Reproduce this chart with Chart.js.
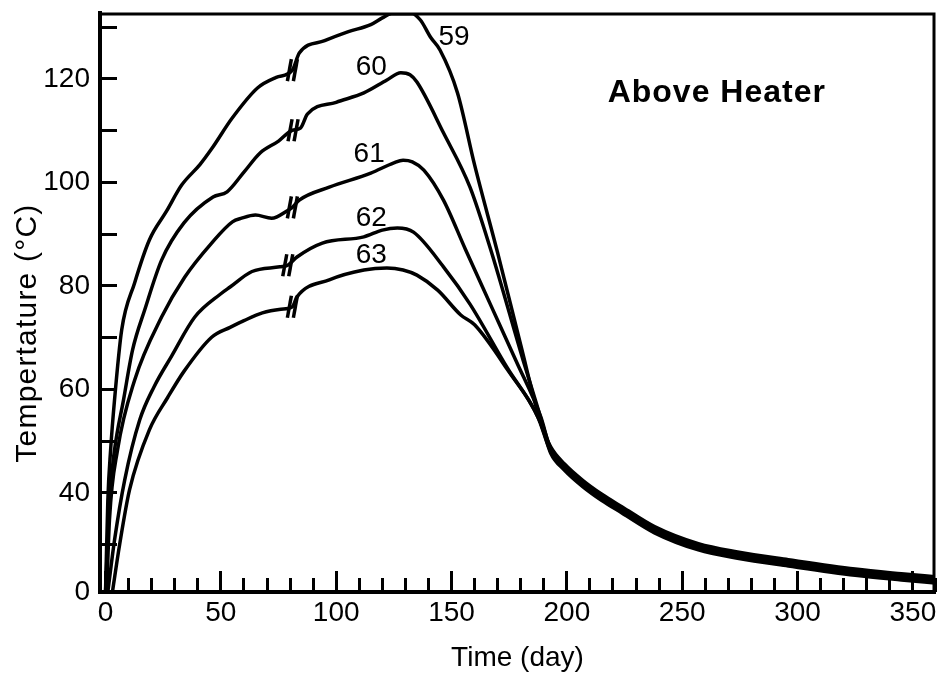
<!DOCTYPE html>
<html>
<head>
<meta charset="utf-8">
<script src="https://cdn.jsdelivr.net/npm/chart.js@4.4.1/dist/chart.umd.min.js"></script>
<style>
html,body{margin:0;padding:0;background:#fff;}
#wrap{width:940px;height:677px;}
</style>
</head>
<body>
<div id="wrap"><canvas id="grafica" width="940" height="677"></canvas></div>
<script>
// curvas 59..63, dia vs temperatura
var dias59 = [0, 1, 2.2, 3.9, 7, 12.6, 19, 26.5, 33, 41, 46, 55, 66, 74, 81, 84, 95, 105, 115, 120, 124, 133, 136.5, 141, 145, 152.6, 160, 170, 180, 188.7, 193, 199, 207, 215, 224, 238, 257, 274, 296, 325, 345, 360];
var temp59 = [20.9, 38.6, 48.3, 58, 71.5, 80.6, 88.9, 94.5, 99.5, 103.5, 106.5, 112.5, 118.3, 120.3, 121.7, 125, 127.4, 129.1, 130.5, 131.8, 132.6, 132.6, 131.4, 128, 125.6, 117.3, 103.4, 86.4, 68.6, 53.5, 48.9, 45.6, 42.4, 39.8, 37.3, 33.5, 30.2, 28.6, 27.1, 25.3, 24.4, 23.8];

var dias60 = [0, 1.7, 3.9, 7.8, 11.7, 17, 24.3, 34, 46.6, 52.7, 60, 67, 75, 81, 84.5, 87.5, 100, 112, 122, 128, 132, 135, 146.5, 158, 167, 181, 187, 190, 193, 199, 207, 215, 224, 238, 257, 274, 296, 325, 345, 360];
var temp60 = [20.9, 38.6, 48.3, 58, 67.6, 75.4, 85, 92.2, 97.2, 98.2, 102, 105.7, 108, 110.1, 110.5, 113.2, 115.5, 117.3, 119.8, 121.2, 120.8, 119.4, 109.6, 99.1, 87, 65.7, 57, 52.5, 48.6, 45.3, 42.1, 39.5, 37.0, 33.2, 29.9, 28.3, 26.8, 25.0, 24.1, 23.5];

var dias61 = [0.5, 1.7, 5.2, 12.6, 24.3, 34.3, 46, 55, 59, 65, 72, 79, 81, 84, 97, 115, 125, 129, 133, 138, 146.5, 156, 167, 178, 188.7, 193, 199, 207, 215, 224, 238, 257, 274, 296, 325, 345, 360];
var temp61 = [20.9, 34.8, 48.3, 61.8, 74, 81.7, 88.3, 92.4, 93.1, 93.7, 93.1, 94.6, 95.2, 96.6, 99.1, 101.8, 103.8, 104.3, 104.0, 102.4, 96.6, 87.1, 76.3, 65.5, 54.7, 48.3, 45.0, 41.8, 39.2, 36.7, 32.9, 29.6, 28.0, 26.5, 24.7, 23.8, 23.2];

var dias62 = [1, 3.9, 8.3, 14.8, 21, 28.7, 38.7, 50, 54, 63.5, 75.6, 79, 83, 94, 112, 120, 126.5, 133.5, 146.5, 158, 174, 187.4, 193, 199, 207, 215, 224, 238, 257, 274, 296, 325, 345, 360];
var temp62 = [20.9, 30.9, 42.5, 54.1, 60.5, 66.5, 74, 78.5, 79.8, 82.8, 83.7, 84, 85.6, 88.3, 89.5, 90.8, 91.2, 90.4, 83.7, 76.5, 64.3, 54.7, 48.0, 44.7, 41.5, 38.9, 36.4, 32.6, 29.3, 27.7, 26.2, 24.4, 23.5, 22.9];

var dias63 = [3, 6.1, 10.4, 19, 27, 34, 46, 54, 60, 68, 76, 81, 83, 97, 112, 122, 129, 135, 144, 154, 160, 174.3, 188.7, 193, 199, 207, 215, 224, 238, 257, 274, 296, 325, 345, 360];
var temp63 = [20.9, 30, 40.6, 52.2, 58.5, 63.5, 70.1, 72, 73.3, 74.8, 75.5, 76, 77.9, 81.2, 83.1, 83.5, 83.1, 82.1, 79.2, 74.4, 72.5, 63.8, 53.5, 47.7, 44.4, 41.2, 38.6, 36.1, 32.3, 29.0, 27.4, 25.9, 24.1, 23.2, 22.6];

// marcas "//" de cada curva
var diaCorte = [81, 81.3, 81, 79, 81];
var tempCorte = [121.7, 110.1, 95.2, 84, 76];

// etiquetas de curva
var nombres = ['59', '60', '61', '62', '63'];
var diaNombre = [151.1, 115.2, 114.3, 115.2, 115.2];
var tempNombre = [128.1, 122.3, 105.5, 93.1, 86];

// ejes
var xMin = -2.4, xMax = 359.6;
var yMin = 20.87, yMax = 132.75;
var xTicks = [0, 50, 100, 150, 200, 250, 300, 350];
var xTicksMenores = [10, 20, 30, 40, 60, 70, 80, 90, 110, 120, 130, 140, 160, 170, 180, 190, 210, 220, 230, 240, 260, 270, 280, 290, 310, 320, 330, 340, 360];
var yTicks = [20.87, 30, 40, 50, 60, 70, 80, 90, 100, 110, 120, 130];
var yTicksTexto = ['0', '', '40', '', '60', '', '80', '', '100', '', '120', ''];

var fuente = '"Liberation Sans", Arial, sans-serif';

function puntos(d, t) {
  var p = [];
  for (var i = 0; i < d.length; i++) p.push({x: d[i], y: t[i]});
  return p;
}

function serie(d, t) {
  return {
    data: puntos(d, t),
    borderColor: '#000',
    borderWidth: 3.5,
    pointRadius: 0,
    fill: false,
    cubicInterpolationMode: 'monotone'
  };
}

var extras = {
  id: 'extras',
  afterDraw: function(chart) {
    var ctx = chart.ctx;
    var xs = chart.scales.x, ys = chart.scales.y;
    var area = chart.chartArea;
    ctx.save();

    // marco superior y derecho
    ctx.strokeStyle = '#000';
    ctx.lineWidth = 3;
    ctx.beginPath();
    ctx.moveTo(area.left, area.top + 1);
    ctx.lineTo(area.right - 1, area.top + 1);
    ctx.lineTo(area.right - 1, area.bottom);
    ctx.stroke();

    // cortes
    ctx.lineWidth = 3.5;
    for (var i = 0; i < diaCorte.length; i++) {
      var px = xs.getPixelForValue(diaCorte[i]);
      var py = ys.getPixelForValue(tempCorte[i]);
      [-3, 3].forEach(function(dx) {
        ctx.beginPath();
        ctx.moveTo(px + dx - 2, py + 11);
        ctx.lineTo(px + dx + 2, py - 11);
        ctx.stroke();
      });
    }

    // nombres de curvas
    ctx.fillStyle = '#000';
    ctx.textAlign = 'center';
    ctx.textBaseline = 'middle';
    ctx.font = '28px ' + fuente;
    for (var j = 0; j < nombres.length; j++) {
      ctx.fillText(nombres[j], xs.getPixelForValue(diaNombre[j]), ys.getPixelForValue(tempNombre[j]));
    }

    ctx.font = 'bold 32px ' + fuente;
    ctx.letterSpacing = '1px';
    ctx.fillText('Above Heater', xs.getPixelForValue(265), ys.getPixelForValue(117.3));

    // titulo eje y
    ctx.font = '30px ' + fuente;
    ctx.letterSpacing = '1.2px';
    ctx.translate(ys.left + 28, ys.getPixelForValue(70.9));
    ctx.rotate(-Math.PI / 2);
    ctx.fillText('Tempertature (°C)', 0, 0);
    ctx.restore();
  }
};

var ctx = document.getElementById('grafica').getContext('2d');
var myChart = new Chart(ctx, {
  type: 'line',
  data: {
    datasets: [
      serie(dias59, temp59),
      serie(dias60, temp60),
      serie(dias61, temp61),
      serie(dias62, temp62),
      serie(dias63, temp63)
    ]
  },
  options: {
    responsive: false,
    animation: false,
    layout: {padding: {top: 13, right: 5, left: 0, bottom: 0}},
    plugins: {legend: {display: false}, tooltip: {enabled: false}},
    scales: {
      x: {
        type: 'linear',
        position: 'bottom',
        weight: 1,
        min: xMin,
        max: xMax,
        afterBuildTicks: function(s) { s.ticks = xTicks.map(function(v) { return {value: v}; }); },
        afterFit: function(s) { s.height = 85; s.paddingLeft = 0; s.paddingRight = 0; },
        border: {display: true, color: '#000', width: 4},
        grid: {drawOnChartArea: false, drawTicks: true, tickLength: -21, tickWidth: 3, color: '#000', tickColor: '#000'},
        ticks: {color: '#000', padding: 25, maxRotation: 0, autoSkip: false, font: {family: fuente, size: 28}},
        title: {display: true, text: 'Time (day)', color: '#000', padding: {top: 0, bottom: 2}, font: {family: fuente, size: 28}}
      },
      xMenor: {
        type: 'linear',
        position: 'bottom',
        weight: 0,
        min: xMin,
        max: xMax,
        afterBuildTicks: function(s) { s.ticks = xTicksMenores.map(function(v) { return {value: v}; }); },
        afterFit: function(s) { s.height = 0; s.paddingLeft = 0; s.paddingRight = 0; },
        border: {display: false},
        grid: {drawOnChartArea: false, drawTicks: true, tickLength: -14, tickWidth: 3, color: '#000', tickColor: '#000'},
        ticks: {display: false}
      },
      y: {
        type: 'linear',
        position: 'left',
        min: yMin,
        max: yMax,
        afterBuildTicks: function(s) { s.ticks = yTicks.map(function(v) { return {value: v}; }); },
        afterFit: function(s) { s.width = 100; s.paddingTop = 0; s.paddingBottom = 0; },
        border: {display: true, color: '#000', width: 4},
        grid: {drawOnChartArea: false, drawTicks: true, tickLength: -17, tickWidth: 3, color: '#000', tickColor: '#000'},
        ticks: {
          color: '#000',
          padding: 27,
          autoSkip: false,
          font: {family: fuente, size: 28},
          callback: function(v, i) { return yTicksTexto[i]; }
        },
        title: {display: false}
      }
    }
  },
  plugins: [extras]
});
</script>
</body>
</html>
